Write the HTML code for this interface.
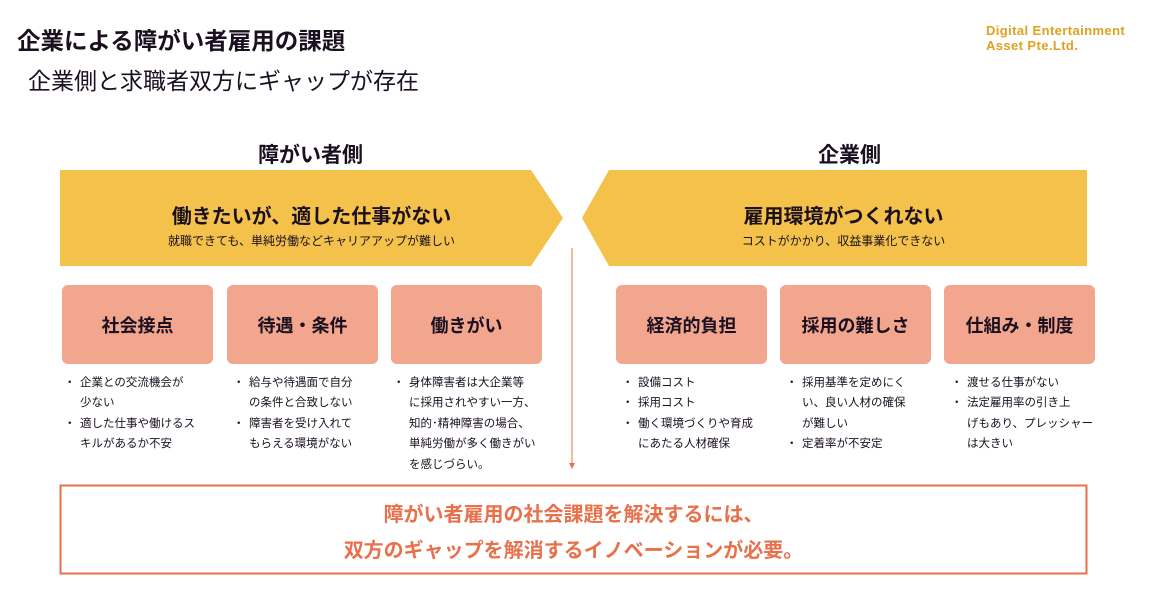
<!DOCTYPE html>
<html><head><meta charset="utf-8"><style>
body{margin:0;width:1159px;height:608px;background:#fff;position:relative;overflow:hidden;font-family:"Liberation Sans","Noto Sans CJK JP",sans-serif;color:#1a1020}
.a{position:absolute}
.t{position:absolute;white-space:nowrap}
.box{position:absolute;top:285px;width:151px;height:79px;background:#f2a68e;border-radius:6px;display:flex;align-items:center;justify-content:center;font-size:18px;font-weight:bold;color:#1a1020}
.ul{position:absolute;top:373px;font-size:11.5px;line-height:20.4px;margin:0;padding:0;list-style:none;white-space:nowrap}
.ul li{padding-left:14px;position:relative}
.ul li:before{content:"・";position:absolute;left:-2px}
</style></head><body>
<div class="t" style="left:17px;top:22px;font-size:23.5px;font-weight:bold">企業による障がい者雇用の課題</div>
<div class="t" style="left:28px;top:62px;font-size:23px">企業側と求職者双方にギャップが存在</div>
<div class="t" style="left:986px;top:23px;font-size:13px;font-weight:bold;color:#e0a020;line-height:15px;letter-spacing:0.4px">Digital Entertainment<br>Asset Pte.Ltd.</div>
<div class="t" style="left:258px;top:139px;font-size:21px;font-weight:bold">障がい者側</div>
<div class="t" style="left:818px;top:139px;font-size:21px;font-weight:bold">企業側</div>
<svg class="a" style="left:0;top:0" width="1159" height="608">
<polygon points="60,170 531,170 563,218 531,266 60,266" fill="#f4c24a"/>
<polygon points="1087,170 609,170 582,218 609,266 1087,266" fill="#f4c24a"/>
<line x1="572" y1="248" x2="572" y2="464" stroke="#e8704a" stroke-width="1"/>
<polygon points="569,463 575,463 572,469" fill="#e8704a"/>
<rect x="60.5" y="485.5" width="1026" height="88" fill="#fff" stroke="#e8704a" stroke-width="2"/>
</svg>
<div class="t" style="left:60px;width:503px;text-align:center;top:200px;font-size:20px;font-weight:bold">働きたいが、適した仕事がない</div>
<div class="t" style="left:60px;width:503px;text-align:center;top:232px;font-size:12px">就職できても、単純労働などキャリアアップが難しい</div>
<div class="t" style="left:600px;width:487px;text-align:center;top:200px;font-size:20px;font-weight:bold">雇用環境がつくれない</div>
<div class="t" style="left:600px;width:487px;text-align:center;top:232px;font-size:12px">コストがかかり、収益事業化できない</div>
<div class="box" style="left:62px">社会接点</div>
<div class="box" style="left:227px">待遇・条件</div>
<div class="box" style="left:391px">働きがい</div>
<div class="box" style="left:616px">経済的負担</div>
<div class="box" style="left:780px">採用の難しさ</div>
<div class="box" style="left:944px">仕組み・制度</div>
<ul class="ul" style="left:66px"><li>企業との交流機会が<br>少ない</li><li>適した仕事や働けるス<br>キルがあるか不安</li></ul>
<ul class="ul" style="left:235px"><li>給与や待遇面で自分<br>の条件と合致しない</li><li>障害者を受け入れて<br>もらえる環境がない</li></ul>
<ul class="ul" style="left:395px"><li>身体障害者は大企業等<br>に採用されやすい一方、<br>知的･精神障害の場合、<br>単純労働が多く働きがい<br>を感じづらい。</li></ul>
<ul class="ul" style="left:624px"><li>設備コスト</li><li>採用コスト</li><li>働く環境づくりや育成<br>にあたる人材確保</li></ul>
<ul class="ul" style="left:788px"><li>採用基準を定めにく<br>い、良い人材の確保<br>が難しい</li><li>定着率が不安定</li></ul>
<ul class="ul" style="left:953px"><li>渡せる仕事がない</li><li>法定雇用率の引き上<br>げもあり、プレッシャー<br>は大きい</li></ul>
<div class="t" style="left:60px;width:1027px;text-align:center;top:498px;font-size:20px;font-weight:bold;color:#e8704a">障がい者雇用の社会課題を解決するには、</div>
<div class="t" style="left:60px;width:1027px;text-align:center;top:534px;font-size:20px;font-weight:bold;color:#e8704a">双方のギャップを解消するイノベーションが必要。</div>
</body></html>
